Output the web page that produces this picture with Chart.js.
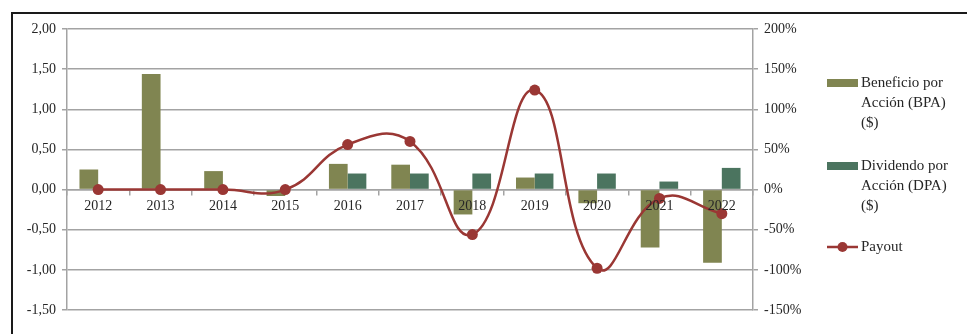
<!DOCTYPE html>
<html>
<head>
<meta charset="utf-8">
<script src="https://cdn.jsdelivr.net/npm/chart.js@4/dist/chart.umd.min.js"></script>
<style>
  html, body { margin: 0; padding: 0; background: #fff; overflow: hidden; }
  #wrap { position: relative; width: 967px; height: 334px; }
</style>
</head>
<body>
<div id="wrap"><canvas id="c" width="967" height="334"></canvas></div>
<script>
// Años del periodo analizado
const years = ['2012', '2013', '2014', '2015', '2016', '2017', '2018', '2019', '2020', '2021', '2022'];
// Beneficio por acción ($)
const bpa = [0.25, 1.44, 0.23, -0.08, 0.32, 0.31, -0.31, 0.15, -0.17, -0.72, -0.91];
// Dividendo por acción ($)
const dpa = [0, 0, 0, 0, 0.20, 0.20, 0.20, 0.20, 0.20, 0.10, 0.27];
// Payout (%)
const payout = [0, 0, 0, 0, 56, 60, -56, 124, -98, -11, -30];

const seriesNames = ['Beneficio por Acción (BPA) ($)', 'Dividendo por Acción (DPA) ($)', 'Payout'];
const legendLines = [['Beneficio por', 'Acción (BPA)', '($)'], ['Dividendo por', 'Acción (DPA)', '($)'], ['Payout']];

const FONT = "'Liberation Serif', 'DejaVu Serif', serif";
const GRID = '#a3a3a3';
const TEXT = '#262626';
const C_BPA = '#808551';
const C_DPA = '#4b745f';
const C_PAY = '#9a3734';

// Marco exterior del gráfico
const framePlugin = {
  id: 'frame',
  beforeDraw(chart) {
    const ctx = chart.ctx;
    ctx.save();
    ctx.strokeStyle = '#1a1a1a';
    ctx.lineWidth = 2;
    ctx.strokeRect(12, 13, 1000, 400);
    ctx.restore();
  }
};

// Leyenda a la derecha con etiquetas en varias líneas
const sideLegend = {
  id: 'sideLegend',
  afterDraw(chart) {
    const ctx = chart.ctx;
    const ds = chart.data.datasets;
    const x0 = 827, sw = 31, tx = 861, lh = 20;
    const starts = [83, 166, 247];
    ctx.save();
    ctx.font = '15px ' + FONT;
    ctx.fillStyle = TEXT;
    ctx.textBaseline = 'middle';
    ds.forEach((d, i) => {
      const y = starts[i];
      if (d.type === 'line') {
        ctx.strokeStyle = d.borderColor;
        ctx.lineWidth = 2.5;
        ctx.beginPath();
        ctx.moveTo(x0, y);
        ctx.lineTo(x0 + sw, y);
        ctx.stroke();
        ctx.fillStyle = d.pointBackgroundColor;
        ctx.beginPath();
        ctx.arc(x0 + sw / 2, y, 5, 0, Math.PI * 2);
        ctx.fill();
      } else {
        ctx.fillStyle = d.backgroundColor;
        ctx.fillRect(x0, y - 4, sw, 8);
      }
      ctx.fillStyle = TEXT;
      legendLines[i].forEach((t, k) => ctx.fillText(t, tx, y + k * lh));
    });
    ctx.restore();
  }
};

new Chart(document.getElementById('c'), {
  data: {
    labels: years,
    datasets: [
      { type: 'bar', label: seriesNames[0], data: bpa, yAxisID: 'y', backgroundColor: C_BPA,
        barPercentage: 1, categoryPercentage: 0.6, order: 2 },
      { type: 'bar', label: seriesNames[1], data: dpa, yAxisID: 'y', backgroundColor: C_DPA,
        barPercentage: 1, categoryPercentage: 0.6, order: 2 },
      { type: 'line', label: seriesNames[2], data: payout, yAxisID: 'y1',
        borderColor: C_PAY, backgroundColor: C_PAY, borderWidth: 2.5, tension: 0.45,
        pointRadius: 5.5, pointBackgroundColor: C_PAY, pointBorderWidth: 0, order: 0 }
    ]
  },
  options: {
    responsive: false,
    animation: false,
    devicePixelRatio: 1,
    layout: { padding: { top: 29, bottom: 24, left: 0, right: 0 } },
    plugins: { legend: { display: false }, tooltip: { enabled: false } },
    scales: {
      x: {
        position: { y: 0 },
        offset: true,
        grid: { offset: true, drawOnChartArea: false, drawTicks: true, tickLength: 5, color: GRID, lineWidth: 1.5 },
        border: { display: true, color: GRID, width: 1.5 },
        ticks: { z: 1, font: { family: FONT, size: 14 }, color: TEXT, padding: 3, maxRotation: 0, autoSkip: false }
      },
      y: {
        position: 'left',
        min: -1.5, max: 2,
        ticks: { stepSize: 0.5, font: { family: FONT, size: 14 }, color: TEXT, padding: 6,
          callback: v => v.toFixed(2).replace('.', ',') },
        grid: { color: GRID, lineWidth: 1.5, tickLength: 5 },
        border: { display: true, color: GRID, width: 1.5 },
        afterFit: s => { s.width = 67; }
      },
      y1: {
        position: 'right',
        min: -150, max: 200,
        ticks: { stepSize: 50, font: { family: FONT, size: 14 }, color: TEXT, padding: 6,
          callback: v => v + '%' },
        grid: { drawOnChartArea: false, color: GRID, lineWidth: 1.5, tickLength: 5 },
        border: { display: true, color: GRID, width: 1.5 },
        afterFit: s => { s.width = 214; }
      }
    }
  },
  plugins: [framePlugin, sideLegend]
});
</script>
</body>
</html>
